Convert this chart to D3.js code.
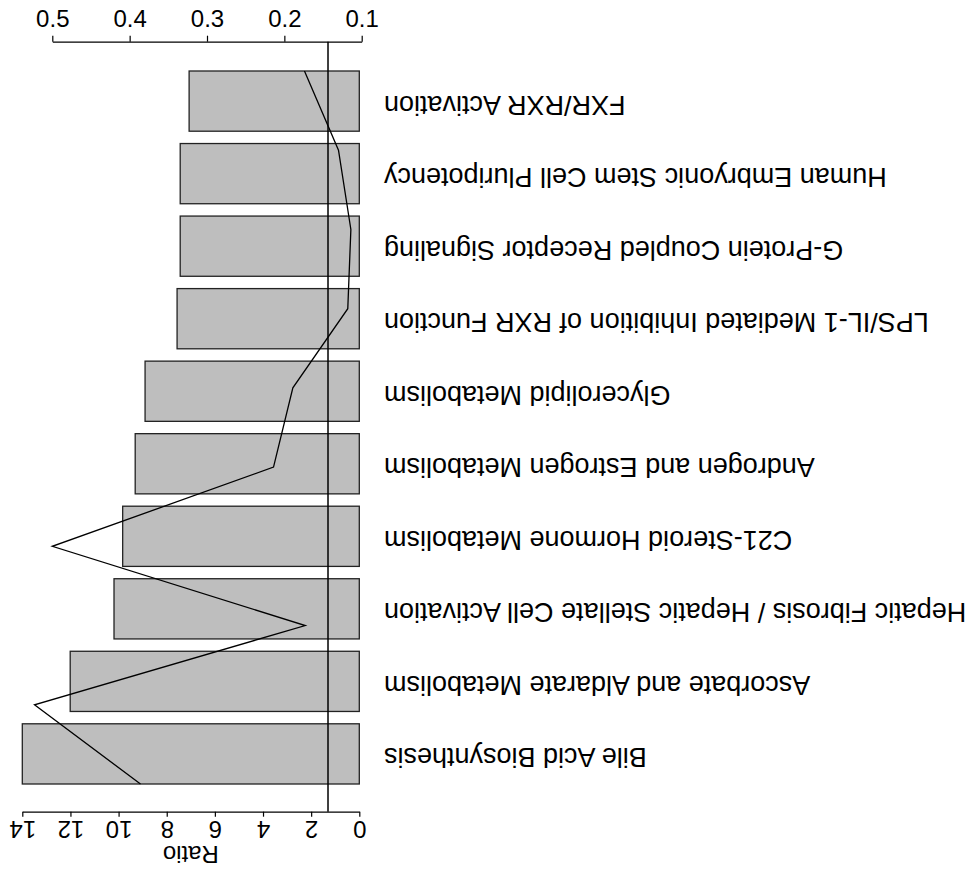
<!DOCTYPE html>
<html>
<head>
<meta charset="utf-8">
<script src="https://cdn.jsdelivr.net/npm/d3@7"></script>
<style>
  html, body { margin: 0; padding: 0; background: #ffffff; }
  svg { display: block; }
  text { font-family: "Liberation Sans", Arial, Helvetica, sans-serif; fill: #000; }
</style>
</head>
<body>
<svg id="chart" width="976" height="870"></svg>
<script>
// Pathways, listed from the first drawn row to the last
const categories = [
  "FXR/RXR Activation",
  "Human Embryonic Stem Cell Pluripotency",
  "G-Protein Coupled Receptor Signaling",
  "LPS/IL-1 Mediated Inhibition of RXR Function",
  "Glycerolipid Metabolism",
  "Androgen and Estrogen Metabolism",
  "C21-Steroid Hormone Metabolism",
  "Hepatic Fibrosis / Hepatic Stellate Cell Activation",
  "Ascorbate and Aldarate Metabolism",
  "Bile Acid Biosynthesis"
];

// Bar lengths on the "Ratio" axis
const barValues = [7.07, 7.44, 7.44, 7.57, 8.90, 9.31, 9.83, 10.19, 12.01, 14.0];

// Line values on the secondary axis
const lineValues = [0.174, 0.130, 0.114, 0.118, 0.189, 0.214, 0.500, 0.173, 0.523, 0.386];

// Tick labels
const ratioTicks = [0, 2, 4, 6, 8, 10, 12, 14];
const secondaryTicks = [0.1, 0.2, 0.3, 0.4, 0.5];

// Threshold marker on the ratio axis
const threshold = 1.3;

const svg = d3.select("#chart");

// The whole figure is drawn turned half a turn: values grow leftwards,
// rows run top to bottom, text is upside down.
const x = d3.scaleLinear().domain([0, 14]).range([359.3, 22.3]);
const x2 = d3.scaleLinear().domain([0.1, 0.5]).range([361.7, 52.3]);
const y = d3.scaleBand().domain(categories).range([71, 784]).paddingInner(0.17).paddingOuter(0);
const yLine = d3.scalePoint().domain(categories).range([71, 784]).padding(0);

const axisTopY = 41.7, axisBottomY = 811.7;

// Bars
svg.append("g")
  .selectAll("rect")
  .data(categories)
  .join("rect")
  .attr("x", (d, i) => x(barValues[i]))
  .attr("y", d => y(d))
  .attr("width", (d, i) => x(0) - x(barValues[i]))
  .attr("height", y.bandwidth())
  .attr("fill", "#bebebe")
  .attr("stroke", "#222")
  .attr("stroke-width", 1.3);

// Line series
const line = d3.line()
  .x(d => x2(d))
  .y((d, i) => yLine(categories[i]));
svg.append("path")
  .datum(lineValues)
  .attr("d", line)
  .attr("fill", "none")
  .attr("stroke", "#000")
  .attr("stroke-width", 1.3);

// Threshold line
svg.append("line")
  .attr("x1", x(threshold)).attr("x2", x(threshold))
  .attr("y1", axisTopY).attr("y2", axisBottomY)
  .attr("stroke", "#000")
  .attr("stroke-width", 1.5);

// Bottom axis (ratio)
const gBottom = svg.append("g")
  .attr("transform", `translate(0,${axisBottomY})`)
  .call(d3.axisBottom(x).tickValues(ratioTicks).tickSize(5).tickSizeOuter(0));
gBottom.selectAll("path.domain, line").attr("stroke", "#000").attr("stroke-width", 1.2);
gBottom.selectAll(".tick text").remove();
gBottom.selectAll(".tick").append("text")
  .attr("transform", "translate(0,9.5) rotate(180)")
  .attr("text-anchor", "middle")
  .style("font-size", "24px")
  .text(d => d3.format("d")(d));

svg.append("text")
  .attr("transform", `translate(${(x(0) + x(14)) / 2},846) rotate(180)`)
  .attr("text-anchor", "middle")
  .style("font-size", "24px")
  .text("Ratio");

// Top axis (secondary)
const gTop = svg.append("g")
  .attr("transform", `translate(0,${axisTopY})`)
  .call(d3.axisTop(x2).tickValues(secondaryTicks).tickSize(6).tickSizeOuter(0));
gTop.selectAll("path.domain, line").attr("stroke", "#000").attr("stroke-width", 1.2);
gTop.selectAll(".tick text").remove();
gTop.selectAll(".tick").append("text")
  .attr("transform", "translate(0,-14.4)")
  .attr("text-anchor", "middle")
  .style("font-size", "24px")
  .text(d => d3.format(".1f")(d));

// Category labels
svg.append("g")
  .selectAll("text")
  .data(categories)
  .join("text")
  .attr("transform", d => `translate(384,${y(d) + y.bandwidth() / 2 - 5.5}) rotate(180)`)
  .attr("text-anchor", "end")
  .style("font-size", "27px")
  .text(d => d);
</script>
</body>
</html>
